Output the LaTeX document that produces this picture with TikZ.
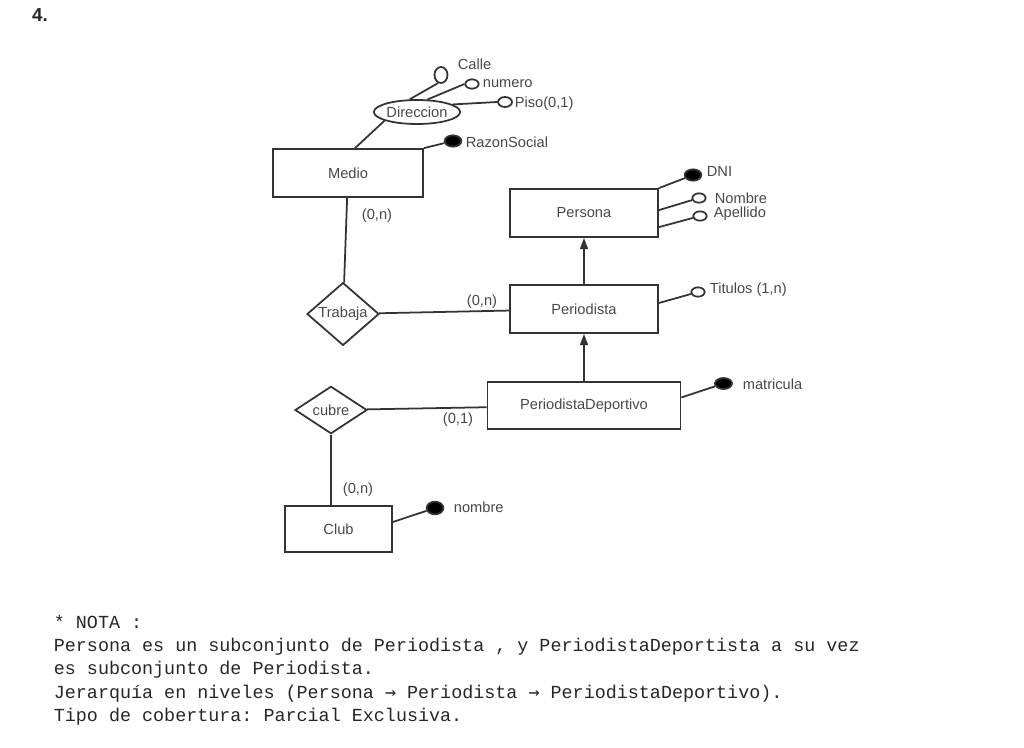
\documentclass[tikz,border=0pt]{standalone}
\usepackage{fontspec}
\setmainfont{Liberation Sans}
\setmonofont{Liberation Mono}
\newfontfamily\arrowfont{DejaVu Sans Mono}
\usepackage{tikz}
\usetikzlibrary{arrows, arrows.meta, positioning, shapes.geometric, calc}
\tikzset{>={Triangle[length=3.4mm, width=2.4mm]}}

\definecolor{erline}{HTML}{333333}
\definecolor{ertext}{HTML}{484848}

\tikzset{
    erfont/.style={font=\fontsize{12.5}{14}\selectfont},
    entity/.style={draw=erline, rectangle, inner sep=0pt, minimum height=1.44cm, text=ertext, erfont},
    relation/.style={draw=erline, diamond, inner sep=0pt, minimum width=2.16cm, minimum height=1.42cm, text=ertext, erfont},
    compattr/.style={draw=erline, ellipse, inner sep=0pt, minimum width=2.52cm, minimum height=.72cm, text=ertext, erfont},
    attr/.style={draw=erline, ellipse, fill=white, inner sep=0pt, minimum width=.4cm, minimum height=.28cm},
    keyattr/.style={attr, fill=black, minimum width=.5cm, minimum height=.34cm},
    lbl/.style={text=ertext, erfont, inner sep=0pt, anchor=west},
    card/.style={text=ertext, erfont, inner sep=0pt},
    note/.style={anchor=base west, inner sep=0pt, text=black!85, font=\ttfamily\fontsize{15.7}{18}\selectfont}
}

\begin{document}
\begin{tikzpicture}[x=0.03cm, y=-0.03cm, line width=1.5pt, erline]
    \useasboundingbox (0,0) rectangle (1024,747);

    \node[font=\bfseries\fontsize{16}{18}\selectfont, text=black!85] (num) at (40,15) {4.};

    % entidades
    \node[entity, minimum width=4.5cm] (medio) at (348,173) {Medio};
    \node[entity, minimum width=4.44cm] (persona) at (584,213) {Persona};
    \node[entity, minimum width=4.44cm] (periodista) at (584,309) {Periodista};
    \node[entity, minimum width=5.79cm, minimum height=1.41cm] (pd) at (584,405.5) {PeriodistaDeportivo};
    \node[entity, minimum width=3.21cm, minimum height=1.38cm] (club) at (338.5,529) {Club};

    % relaciones
    \node[relation] (trabaja) at (343,314) {Trabaja};
    \node[relation, minimum height=1.38cm] (cubre) at (331,410) {cubre};

    % atributo compuesto
    \node[compattr] (dir) at (417,112) {Direccion};
    \node[attr, minimum width=.39cm, minimum height=.48cm] (calle) at (441,75) {};
    \node[attr] (numero) at (472,84) {};
    \node[attr, minimum width=.42cm, minimum height=.3cm] (piso) at (505,102) {};
    \node[lbl] (calleT) at (457,64) {Calle};
    \node[lbl] (numeroT) at (482,84) {numero};
    \node[lbl] (pisoT) at (514,104) {Piso(0,1)};

    \draw ($(medio.north)+(7,0)$) -- (dir.195);
    \draw (dir.120) -- (calle.250);
    \draw (dir.50) -- (numero.west);
    \draw (dir.12) -- (piso.west);

    % atributos
    \node[keyattr] (razon) at (453,141) {};
    \node[lbl] (razonT) at (465,142) {RazonSocial};
    \draw (medio.north east) -- (razon);

    \node[keyattr] (dni) at (693,175) {};
    \node[attr] (nombre) at (699,198) {};
    \node[attr] (apellido) at (700,216) {};
    \node[lbl] (dniT) at (706,171) {DNI};
    \node[lbl] (nombreT) at (714,198) {Nombre};
    \node[lbl] (apellidoT) at (713,214) {Apellido};
    \draw (persona.north east) -- (dni);
    \draw ($(persona.north east)+(0,22)$) -- (nombre);
    \draw ($(persona.north east)+(0,39)$) -- (apellido);

    \node[attr] (titulos) at (698,292) {};
    \node[lbl] (titulosT) at (709,290) {Titulos (1,n)};
    \draw ($(periodista.east)+(0,-6)$) -- (titulos);

    \node[keyattr, minimum width=.51cm, minimum height=.33cm] (matric) at (723.5,383.5) {};
    \node[lbl] (matricT) at (742,384) {matricula};
    \draw ($(pd.east)+(0,-8)$) -- (matric);

    \node[keyattr, minimum height=.38cm] (clubnom) at (435,508) {};
    \node[lbl] (clubnomT) at (453,507) {nombre};
    \draw ($(club.east)+(0,-7)$) -- (clubnom);

    % jerarquia
    \draw[->] (periodista) -- (persona);
    \draw[->] (pd) -- (periodista);

    % conexiones de relaciones
    \draw (medio) -- (trabaja);
    \draw (trabaja) -- (periodista);
    \draw (cubre) -- (pd);
    \draw (cubre.south) -- (cubre.south |- club.north);

    \node[card] (c1) at (377,216) {(0,n)};
    \node[card] (c2) at (482,302) {(0,n)};
    \node[card] (c3) at (458,420) {(0,1)};
    \node[card] (c4) at (358,490) {(0,n)};

    % nota
    \foreach \txt [count=\i] in {{* NOTA :},
        {Persona es un subconjunto de Periodista , y PeriodistaDeportista a su vez},
        {es subconjunto de Periodista.},
        {Jerarquía en niveles (Persona {\arrowfont →} Periodista {\arrowfont →} PeriodistaDeportivo).},
        {Tipo de cobertura: Parcial Exclusiva.}}
    {\node[note] (nota\i) at (53,{628+23.4*(\i-1)}) {\txt};}

\end{tikzpicture}
\end{document}
